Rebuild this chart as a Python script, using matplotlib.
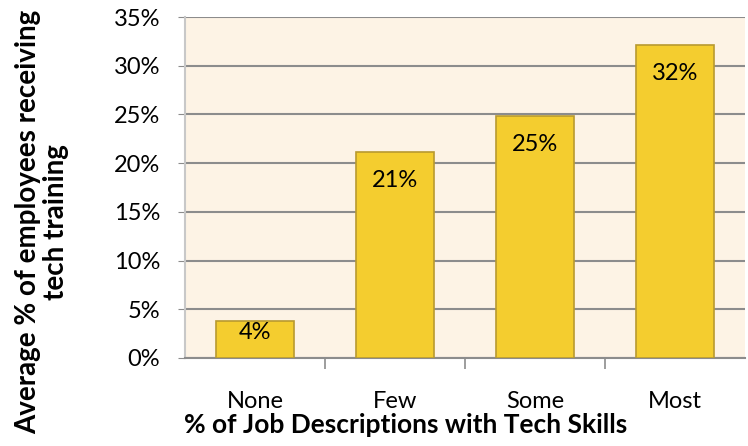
import matplotlib
matplotlib.use("Agg")
import matplotlib.pyplot as plt
import numpy as np

categories = ["None", "Few", "Some", "Most"]
values = [3.8, 21.1, 24.8, 32.1]
labels = ["4%", "21%", "25%", "32%"]
yticks = [0, 5, 10, 15, 20, 25, 30, 35]

plt.rcParams["font.family"] = ["Lato", "DejaVu Sans"]

fig = plt.figure(figsize=(7.48, 4.46), dpi=100)
ax = fig.add_axes([185 / 748, 88 / 446, 560 / 748, 341 / 446])
ax.set_facecolor("#fdf3e5")

x = np.arange(len(categories))
bars = ax.bar(x, values, width=0.56, color="#f4cd2f", edgecolor="#b89a30", linewidth=1.2, zorder=3)
for b, lab in zip(bars, labels):
    h = b.get_height()
    ypos = h - 2.9 if h > 10 else h * 0.7
    ax.text(b.get_x() + b.get_width() / 2, ypos, lab,
            ha="center", va="center", fontsize=17, color="black", zorder=4)

ax.set_xlim(-0.5, len(categories) - 0.5)
ax.set_ylim(0, 35)
ax.set_yticks(yticks)
ax.set_yticklabels([f"{t}%" for t in yticks], fontsize=17)
ax.yaxis.grid(True, color="#8c8c8c", linewidth=1.5, zorder=0)
ax.set_xticks(x)
ax.set_xticklabels(categories, fontsize=17)
ax.tick_params(axis="x", length=0, pad=24)
ax.set_xticks(np.arange(0.5, len(categories) - 1), minor=True)
ax.tick_params(axis="x", which="minor", length=8, color="#8c8c8c", width=1.2)
ax.tick_params(axis="y", length=5, color="#8c8c8c", pad=13)

for s in ["top", "right"]:
    ax.spines[s].set_visible(False)
ax.spines["left"].set_color("#c8c8c8")
ax.spines["left"].set_linewidth(1.5)
ax.spines["bottom"].set_color("#8c8c8c")
ax.spines["bottom"].set_linewidth(1.5)

fig.text(42 / 748, 1 - 222 / 446, "Average % of employees receiving\ntech training",
         rotation=90, ha="center", va="center", fontsize=20, fontweight="bold", linespacing=1.05)
fig.text(406 / 748, 1 - 425 / 446, "% of Job Descriptions with Tech Skills",
         ha="center", va="center", fontsize=19, fontweight="bold")

fig.savefig("out.png", dpi=100)
